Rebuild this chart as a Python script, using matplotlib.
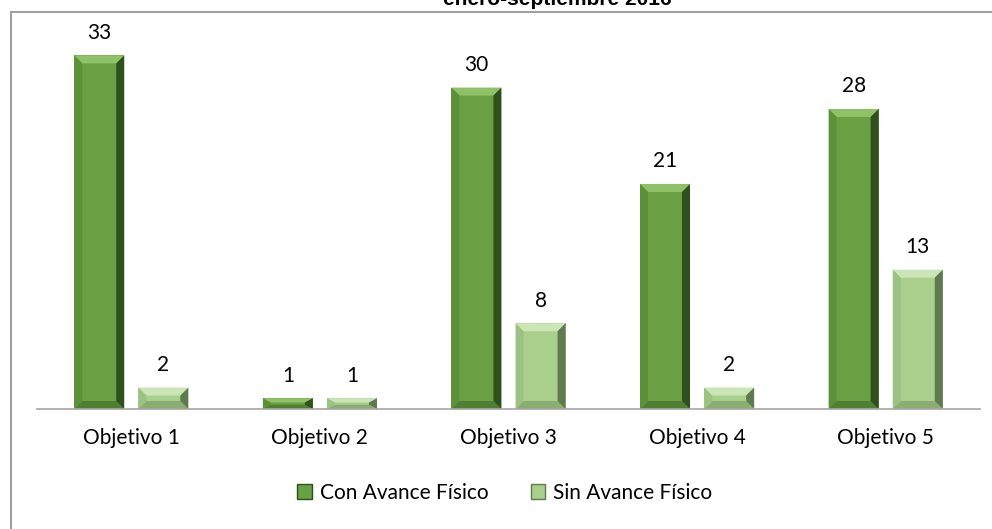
import matplotlib
matplotlib.use('Agg')
import matplotlib.pyplot as plt
import numpy as np
from matplotlib.patches import Polygon, Patch
from matplotlib.lines import Line2D

# Data
objetivos = ["Objetivo 1", "Objetivo 2", "Objetivo 3", "Objetivo 4", "Objetivo 5"]
con_avance = [33, 1, 30, 21, 28]
sin_avance = [2, 1, 8, 2, 13]
series_names = ["Con Avance Físico", "Sin Avance Físico"]
title_text = "enero-septiembre 2016"

# face, top bevel, bottom bevel, left bevel, right bevel
dark_green = ["#68a043", "#8fc266", "#4f7f31", "#5b9139", "#2f4f1c"]
light_green = ["#a8d08c", "#cbe5b7", "#8aae72", "#9bc283", "#5f7a4e"]

plt.rcParams['font.family'] = ['Lato', 'DejaVu Sans']

fig = plt.figure(figsize=(9.92, 5.29), dpi=100)
ax = fig.add_axes([37 / 992, 1 - 409 / 529, (980 - 37) / 992, (409 - 34) / 529])

x = np.arange(len(objetivos))
width = 0.265
off = 0.17
bars1 = ax.bar(x - off, con_avance, width, color=dark_green[0], zorder=2)
bars2 = ax.bar(x + off, sin_avance, width, color=light_green[0], zorder=2)

ax.set_xlim(-0.5, len(objetivos) - 0.5)
ax.set_ylim(0, 35)


# add bevel look on top of each bar
def add_bevel(bar, cols, bevel_px=8):
    ax_w = ax.get_position().width * fig.get_figwidth() * fig.dpi
    ax_h = ax.get_position().height * fig.get_figheight() * fig.dpi
    bx = bevel_px * (ax.get_xlim()[1] - ax.get_xlim()[0]) / ax_w
    by = bevel_px * (ax.get_ylim()[1] - ax.get_ylim()[0]) / ax_h
    x0, y0 = bar.get_x(), bar.get_y()
    x1, y1 = x0 + bar.get_width(), y0 + bar.get_height()
    by = min(by, bar.get_height() / 2.5)
    ix0, ix1, iy0, iy1 = x0 + bx, x1 - bx, y0 + by, y1 - by
    polys = [
        ([(x0, y1), (x1, y1), (ix1, iy1), (ix0, iy1)], cols[1]),
        ([(x0, y0), (x1, y0), (ix1, iy0), (ix0, iy0)], cols[2]),
        ([(x0, y0), (x0, y1), (ix0, iy1), (ix0, iy0)], cols[3]),
        ([(x1, y0), (x1, y1), (ix1, iy1), (ix1, iy0)], cols[4]),
    ]
    for pts, c in polys:
        ax.add_patch(Polygon(pts, closed=True, facecolor=c, edgecolor='none', zorder=3))


for b in bars1:
    add_bevel(b, dark_green)
for b in bars2:
    add_bevel(b, light_green)

# value labels
for bars in (bars1, bars2):
    for b in bars:
        ax.annotate(str(int(b.get_height())), (b.get_x() + b.get_width() / 2, b.get_height()),
                    xytext=(0, 12), textcoords='offset points', ha='center', va='baseline',
                    fontsize=15, color='black')

ax.set_xticks(x)
ax.set_xticklabels(objetivos, fontsize=15)
ax.tick_params(axis='x', length=0, pad=14)
ax.set_yticks([])
for s in ['top', 'right', 'left']:
    ax.spines[s].set_visible(False)
ax.spines['bottom'].set_color('#a6a6a6')
ax.spines['bottom'].set_linewidth(1.2)
ax.spines['bottom'].set_zorder(4)

handles = [Patch(facecolor=dark_green[0], edgecolor=dark_green[4]),
           Patch(facecolor=light_green[0], edgecolor=light_green[4])]
fig.legend(handles, series_names, loc='center', bbox_to_anchor=(505 / 992, 1 - 493 / 529),
           ncol=2, frameon=False, fontsize=15, handlelength=0.7, handleheight=0.7,
           handletextpad=0.4, columnspacing=2.0)

# title cut off at the top of the image, as in the reference
fig.text(557 / 992, 1 - 5 / 529, title_text, ha='center', va='baseline',
         fontsize=15, fontweight='bold', family='Liberation Sans')

# chart border (only top and left visible)
fig.add_artist(Line2D([10.5 / 992, 1], [1 - 11.5 / 529, 1 - 11.5 / 529],
                      transform=fig.transFigure, color='#a0a0a0', lw=1.5))
fig.add_artist(Line2D([10.5 / 992, 10.5 / 992], [0, 1 - 11.5 / 529],
                      transform=fig.transFigure, color='#a0a0a0', lw=1.5))

plt.savefig("out.png", dpi=100)
